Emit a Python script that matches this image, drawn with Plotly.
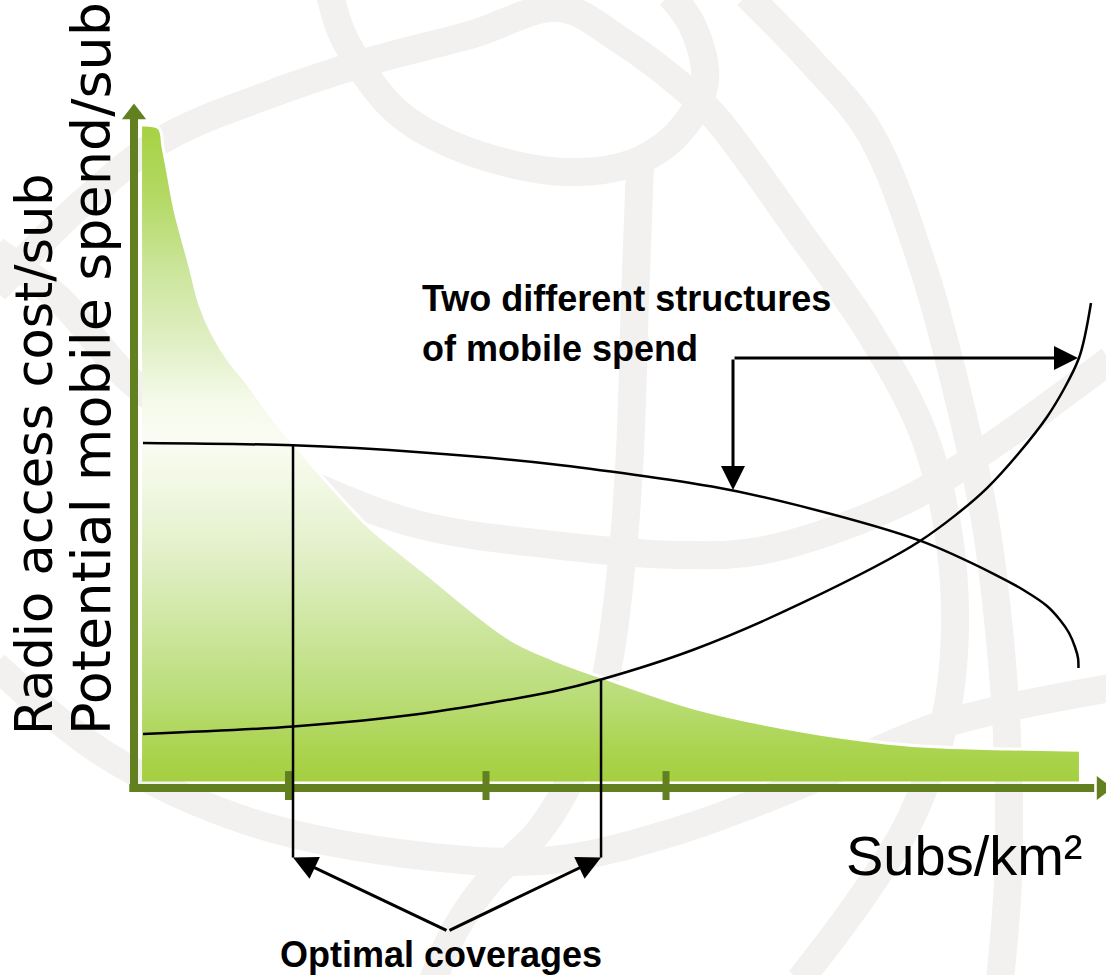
import plotly.graph_objects as go

# ---------------------------------------------------------------------------
# Chart frame (arbitrary units): x = subscriber density, y = value per sub
# ---------------------------------------------------------------------------
X_RANGE = [-14.165, 102.748]
Y_RANGE = [-28.769, 121.231]

# Radio access cost per subscriber (green area), falls with density
cost_x = [0.85, 2.64, 3.07, 3.59, 4.33, 5.92, 6.98, 8.25, 10.15, 11.95, 14.38,
          16.81, 20.93, 24.95, 30.55, 39.53, 44.29, 49.15, 59.20, 70.40, 79.70,
          85.31, 92.71, 99.89]
cost_y = [102.0, 101.5, 98.6, 94.6, 88.9, 80.2, 74.3, 70.0, 65.5, 62.3, 57.4,
          53.1, 46.2, 40.0, 33.4, 23.1, 19.8, 17.2, 12.3, 8.8, 6.9,
          6.3, 6.0, 5.8]
COST_BASE = 1.0

# Two structures of potential mobile spend per subscriber
spend_flat_x = [0.95, 16.81, 30.55, 44.29, 61.1, 70.4, 83.09, 90.91, 94.19,
                96.51, 97.89, 98.84, 99.47, 99.79, 99.84]
spend_flat_y = [53.08, 52.72, 51.62, 49.82, 46.38, 43.40, 38.05, 32.92, 30.31,
                28.0, 25.85, 23.85, 21.69, 20.0, 18.46]

spend_rising_x = [0.95, 16.81, 30.55, 44.29, 49.37, 59.2, 70.4, 83.09, 90.17,
                  96.51, 99.89, 101.16]
spend_rising_y = [8.31, 9.46, 11.46, 14.85, 16.69, 21.31, 28.31, 38.0, 46.15,
                  57.08, 66.15, 74.62]

# Optimal coverage points (spend meets cost)
optimal_x = [16.81, 49.37]
optimal_y = [52.72, 16.69]
GUIDE_BOTTOM = -10.7
CALLOUT_VERTEX = (33.19, -22.0)

# Callout pointing at the two spend structures
STRUCT_CORNER = (63.32, 66.15)
STRUCT_RIGHT_TIP = (99.79, 66.15)
STRUCT_DOWN_TIP = (63.32, 45.85)

tick_positions = [16.33, 37.21, 56.24]

# ---------------------------------------------------------------------------
# Background globe artwork, in a 1106 x 975 canvas frame
# ---------------------------------------------------------------------------
globe_bands = [
    [(330, -5), (345, 40), (395, 110), (460, 148), (565, 172), (640, 160),
     (685, 125), (705, 80), (692, 25), (670, -5)],
    [(-5, 290), (80, 205), (162, 140), (260, 98), (367, 62), (470, 35),
     (560, 8), (620, 40), (683, 87), (715, 117), (800, 233), (870, 333),
     (923, 433), (948, 530), (955, 630), (945, 720), (910, 820), (860, 900),
     (800, 980)],
    [(747, -5), (810, 60), (870, 133), (923, 267), (959, 400), (985, 520),
     (1000, 640), (1008, 760), (1008, 880), (1000, 980)],
    [(640, 165), (635, 300), (630, 450), (622, 560), (605, 680), (575, 770),
     (540, 830), (490, 880), (455, 930), (433, 980)],
    [(-5, 250), (60, 300), (130, 380), (200, 430), (260, 460), (318, 488),
     (420, 525), (553, 545), (680, 555), (765, 550), (906, 500), (1000, 440),
     (1110, 360)],
    [(-5, 665), (106, 755), (247, 821), (423, 856), (553, 860), (680, 830),
     (800, 785), (941, 725), (1110, 688)],
]

OLIVE = "#62801f"
GLOBE = "#f2f1ef"

fig = go.Figure()

# Globe watermark on the base axes
for band in globe_bands:
    fig.add_trace(go.Scatter(
        x=[p[0] for p in band], y=[p[1] for p in band], mode="lines",
        line=dict(color=GLOBE, width=28, shape="spline"),
        hoverinfo="skip", xaxis="x", yaxis="y"))

# Green cost area with vertical gradient
fig.add_trace(go.Scatter(
    x=[cost_x[0], cost_x[-1]], y=[COST_BASE, COST_BASE], mode="lines",
    line=dict(width=0, color="rgba(0,0,0,0)"), hoverinfo="skip",
    xaxis="x2", yaxis="y2"))
fig.add_trace(go.Scatter(
    x=cost_x, y=cost_y, mode="lines", fill="tonexty",
    line=dict(color="white", width=3, shape="spline"),
    fillgradient=dict(
        type="vertical", start=COST_BASE, stop=max(cost_y),
        colorscale=[[0.0, "#a5cf40"], [0.05, "#abd450"], [0.13, "#badd78"],
                    [0.2, "#c7e392"], [0.28, "#d5eab0"], [0.35, "#e3f0c9"],
                    [0.45, "#f1f8e3"], [0.52, "#fafcf3"], [0.58, "#f5faea"],
                    [0.66, "#e2f0c8"], [0.78, "#cbe59b"], [0.89, "#b4d964"],
                    [1.0, "#a6d243"]]),
    hoverinfo="skip", xaxis="x2", yaxis="y2"))

# Axes with arrowheads
fig.add_trace(go.Scatter(
    x=[0, 0], y=[-0.6, 103.0], mode="lines",
    line=dict(color=OLIVE, width=8), hoverinfo="skip", xaxis="x2", yaxis="y2"))
fig.add_trace(go.Scatter(
    x=[-0.5, 101.5], y=[0, 0], mode="lines",
    line=dict(color=OLIVE, width=8), hoverinfo="skip", xaxis="x2", yaxis="y2"))
fig.add_trace(go.Scatter(
    x=[0, 102.33], y=[103.7, 0], mode="markers",
    marker=dict(symbol=["triangle-up", "triangle-right"], size=21,
                color=OLIVE, line=dict(width=0)),
    hoverinfo="skip", xaxis="x2", yaxis="y2"))

# Tick marks on the density axis
tx, ty = [], []
for t in tick_positions:
    tx += [t, t, None]
    ty += [2.6, -1.85, None]
fig.add_trace(go.Scatter(
    x=tx, y=ty, mode="lines", line=dict(color=OLIVE, width=7),
    hoverinfo="skip", xaxis="x2", yaxis="y2"))

# Spend curves
for xs, ys in [(spend_flat_x, spend_flat_y), (spend_rising_x, spend_rising_y)]:
    fig.add_trace(go.Scatter(
        x=xs, y=ys, mode="lines",
        line=dict(color="black", width=2.5, shape="spline", smoothing=0.8),
        hoverinfo="skip", xaxis="x2", yaxis="y2"))

# Drop lines from the optimal coverage points
for ox, oy in zip(optimal_x, optimal_y):
    fig.add_trace(go.Scatter(
        x=[ox, ox], y=[oy, GUIDE_BOTTOM], mode="lines",
        line=dict(color="black", width=2.5),
        hoverinfo="skip", xaxis="x2", yaxis="y2"))

arrow_common = dict(xref="x2", yref="y2", axref="x2", ayref="y2", text="",
                    showarrow=True, arrowhead=2, arrowsize=1.6, arrowwidth=3,
                    arrowcolor="black", standoff=0, startstandoff=0)

annotations = [
    dict(x=STRUCT_RIGHT_TIP[0], y=STRUCT_RIGHT_TIP[1],
         ax=STRUCT_CORNER[0], ay=STRUCT_CORNER[1], **arrow_common),
    dict(x=STRUCT_DOWN_TIP[0], y=STRUCT_DOWN_TIP[1],
         ax=STRUCT_CORNER[0], ay=STRUCT_CORNER[1], **arrow_common),
]
for ox in optimal_x:
    annotations.append(dict(x=ox, y=GUIDE_BOTTOM, ax=CALLOUT_VERTEX[0],
                            ay=CALLOUT_VERTEX[1], **arrow_common))

label_font = dict(family="Liberation Sans, Arial, sans-serif", size=36,
                  color="black", weight=700)
annotations += [
    dict(text="Two different structures", x=30.23, y=75.3, xref="x2", yref="y2",
         xanchor="left", yanchor="middle", showarrow=False, font=label_font),
    dict(text="of mobile spend", x=30.23, y=67.6, xref="x2", yref="y2",
         xanchor="left", yanchor="middle", showarrow=False, font=label_font),
    dict(text="Optimal coverages", x=32.45, y=-25.6, xref="x2", yref="y2",
         xanchor="center", yanchor="middle", showarrow=False, font=label_font),
    dict(text="Subs/km²", x=75.05, y=-10.4, xref="x2", yref="y2",
         xanchor="left", yanchor="middle", showarrow=False,
         font=dict(family="Liberation Sans, Arial, sans-serif", size=56,
                   color="black")),
    dict(text="Radio access cost/sub", textangle=-90, x=-10.45, y=7.85,
         xref="x2", yref="y2", xanchor="center", yanchor="bottom",
         showarrow=False,
         font=dict(family="DejaVu Sans", size=51, color="black")),
    dict(text="Potential mobile spend/sub", textangle=-90, x=-4.5, y=7.85,
         xref="x2", yref="y2", xanchor="center", yanchor="bottom",
         showarrow=False,
         font=dict(family="DejaVu Sans", size=54, color="black")),
]

fig.update_layout(
    width=1106, height=975,
    margin=dict(l=0, r=0, t=0, b=0),
    paper_bgcolor="white", plot_bgcolor="white",
    showlegend=False, hovermode=False,
    xaxis=dict(range=[0, 1106], visible=False, fixedrange=True),
    yaxis=dict(range=[975, 0], visible=False, fixedrange=True),
    xaxis2=dict(range=X_RANGE, visible=False, overlaying="x", fixedrange=True),
    yaxis2=dict(range=Y_RANGE, visible=False, overlaying="y", fixedrange=True),
    annotations=annotations,
)

fig.write_html("out.html", config={"displayModeBar": False})
